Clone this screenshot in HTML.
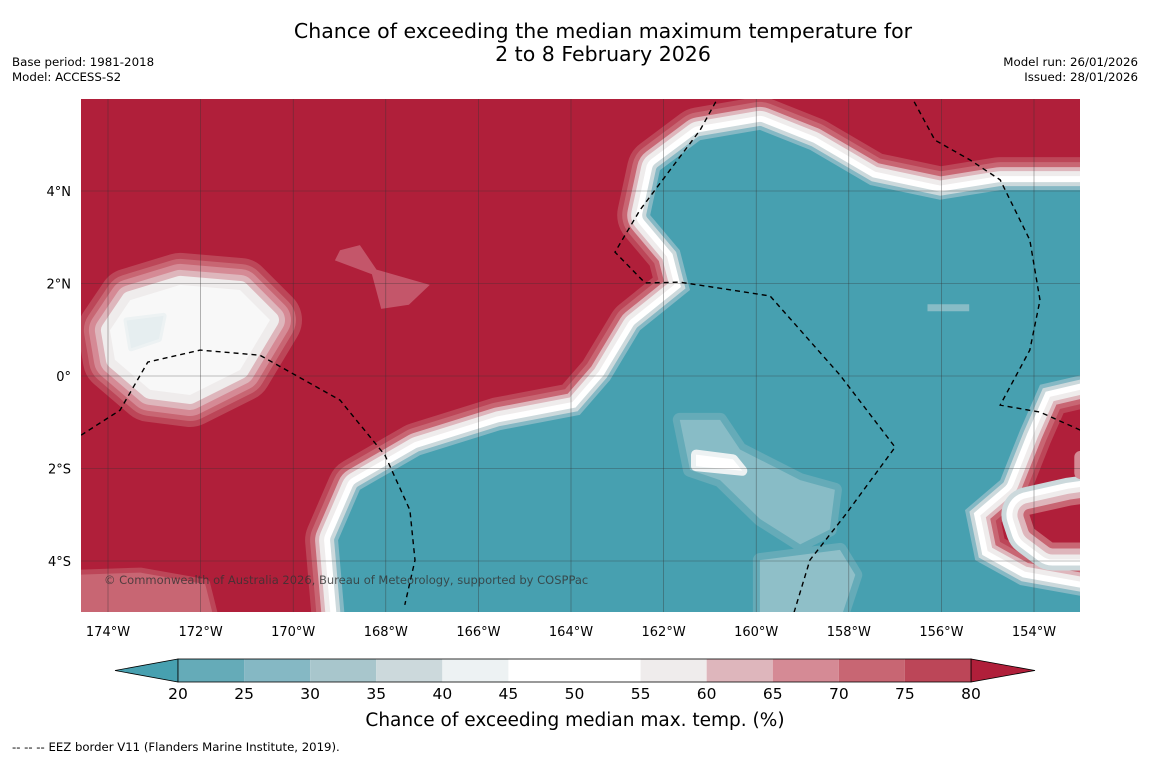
<!DOCTYPE html>
<html><head><meta charset="utf-8"><style>
body{margin:0;background:#fff;width:1150px;height:758px;overflow:hidden;font-family:"DejaVu Sans",sans-serif}
svg text{font-family:"DejaVu Sans",sans-serif}
</style></head><body>
<svg id="chart" width="1150" height="758" viewBox="0 0 1150 758" xmlns="http://www.w3.org/2000/svg">
<defs><clipPath id="mapclip"><rect x="81" y="99" width="999" height="513"/></clipPath></defs>
<text x="603" y="38" font-size="20.5" text-anchor="middle" fill="#000">Chance of exceeding the median maximum temperature for</text>
<text x="603" y="61" font-size="20.5" text-anchor="middle" fill="#000">2 to 8 February 2026</text>
<text x="12" y="66" font-size="11.8">Base period: 1981-2018</text>
<text x="12" y="81" font-size="11.8">Model: ACCESS-S2</text>
<text x="1138" y="66" font-size="11.8" text-anchor="end">Model run: 26/01/2026</text>
<text x="1138" y="81" font-size="11.8" text-anchor="end">Issued: 28/01/2026</text>
<g id="map" clip-path="url(#mapclip)"></g>
<g id="axes"></g>
<g id="cbar"></g>
<text x="575" y="726" font-size="18.5" text-anchor="middle">Chance of exceeding median max. temp. (%)</text>
<text x="12" y="751" font-size="11.7">--  --  -- EEZ border V11 (Flanders Marine Institute, 2019).</text>
</svg>
<script>
const lonTicks=[-174,-172,-170,-168,-166,-164,-162,-160,-158,-156,-154];
const latTicks=[4,2,0,-2,-4];
const cbarLevels=[20,25,30,35,40,45,50,55,60,65,70,75,80];
const cbarColors=["#65abb8","#85b8c4","#a8c6cc","#ccd9dc","#edf2f3","#ffffff","#ffffff","#efecec","#deb6bc","#d58a95","#c86673","#bc4658"];
const belowColor="#47a0b0", aboveColor="#b01f3a";
const tealRegion=[[-168.88,-5.3],[-169.03,-3.55],[-168.56,-2.46],[-167.26,-1.71],[-165.53,-1.17],[-163.81,-0.84],[-163.16,-0.09],[-162.51,0.99],[-161.43,1.86],[-161.65,2.72],[-162.29,3.48],[-162.08,4.45],[-161.21,5.10],[-159.92,5.32],[-158.84,4.89],[-157.54,4.13],[-156.03,3.81],[-154.73,4.02],[-152.5,4.02],[-152.5,0.13],[-153.87,-0.19],[-154.30,-1.17],[-154.73,-2.25],[-155.49,-2.90],[-155.27,-3.98],[-154.30,-4.52],[-152.5,-4.84],[-152.5,-5.3]];
const westBlob=[[-173.96,0.99],[-173.52,1.64],[-172.44,1.97],[-171.15,1.86],[-170.50,1.21],[-171.15,0.13],[-172.23,-0.41],[-173.09,-0.30],[-173.85,0.35]];
const westBlobCore=[[-173.6,1.2],[-172.8,1.3],[-172.9,0.8],[-173.5,0.6]];
const eastRedBlob=[[-154.1,-3.0],[-153.2,-2.8],[-152.5,-2.7],[-152.5,-3.6],[-153.6,-3.6],[-154.0,-3.3]];
const eastRedBlob2=[[-153.0,-1.75],[-152.5,-1.65],[-152.5,-2.2],[-153.0,-2.1]];
const pinkPatch=[[-168.99,2.72],[-168.56,2.83],[-168.2,2.3],[-167.05,1.97],[-167.5,1.54],[-168.1,1.45],[-168.3,2.2],[-169.1,2.5]];
const swPatch=[[-174.8,-4.3],[-173.3,-4.25],[-171.9,-4.5],[-171.7,-5.3],[-174.8,-5.3]];
const lightA=[[-161.65,-0.95],[-160.78,-0.95],[-160.35,-1.59],[-159.05,-2.25],[-158.30,-2.46],[-158.41,-3.32],[-159.05,-3.64],[-159.92,-3.09],[-160.78,-2.25],[-161.43,-2.03]];
const lightACore=[[-161.3,-1.7],[-160.5,-1.8],[-160.3,-2.05],[-161.3,-1.95]];
const lightB=[[-159.92,-3.98],[-158.19,-3.76],[-157.86,-4.30],[-158.19,-5.3],[-159.92,-5.3]];
const lightC=[[-156.3,1.55],[-155.4,1.55],[-155.4,1.4],[-156.3,1.4]];
const eez1=[[-156.68,6.1],[-156.14,5.10],[-155.38,4.67],[-154.73,4.24],[-154.09,2.94],[-153.87,1.64],[-154.09,0.56],[-154.73,-0.63],[-153.87,-0.78],[-153.0,-1.17]];
const eez2=[[-160.78,6.1],[-161.21,5.32],[-162.51,3.59],[-163.05,2.68],[-162.40,2.01],[-161.65,2.03],[-159.70,1.73],[-158.19,0.02],[-157.0,-1.54],[-158.08,-3.01],[-158.84,-3.98],[-159.21,-5.2]];
const eez3=[[-174.58,-1.28],[-173.74,-0.74],[-173.14,0.30],[-172.01,0.56],[-170.72,0.45],[-168.99,-0.52],[-168.02,-1.71],[-167.48,-2.90],[-167.37,-3.98],[-167.59,-4.95]];

const NS="http://www.w3.org/2000/svg";
const X=lon=>108+(lon+174)*46.3;
const Y=lat=>376-lat*46.25;
function mk(tag,attrs,parent){const e=document.createElementNS(NS,tag);for(const k in attrs)e.setAttribute(k,attrs[k]);parent.appendChild(e);return e;}
const pts=a=>a.map(p=>X(p[0]).toFixed(1)+","+Y(p[1]).toFixed(1)).join(" ");
const map=document.getElementById("map");
let r=mk("rect",{x:81,y:99,width:999,height:513,fill:aboveColor},map);


function layered(arr,strokes,fill,name){
  strokes.forEach(s=>{const p=mk("polygon",{points:pts(arr),fill:s[0],stroke:s[0],"stroke-width":s[1],"stroke-linejoin":"round"},map);
  
  });
  const p=mk("polygon",{points:pts(arr),fill:fill,stroke:"none"},map);
  
  
}
layered(pinkPatch,[],"#c4566a","pink-patch");
layered(swPatch,[["#bc4658",10]],"#c86673","southwest-patch");
layered(westBlob,[["#bc4658",64],["#c86673",52],["#d58a95",42],["#deb6bc",30],["#efecec",18]],"#f8f8f8","west-warm-blob");
layered(westBlobCore,[["#edf2f3",6]],"#e6eef0","west-blob-core");
layered(tealRegion,[["#bc4658",66],["#c86673",56],["#deb6bc",46],["#efecec",38],["#ffffff",28],["#ccd9dc",16],["#85b8c4",8]],belowColor,"cool-region");
layered(lightA,[["#65abb8",14]],"#88bcc6","cool-light-patch-a");
layered(lightACore,[["#edf2f3",10]],"#ffffff","cool-light-core");
layered(lightB,[["#65abb8",14]],"#8fbfc8","cool-light-patch-b");
layered(lightC,[],"#88bcc6","cool-light-patch-c");
layered(eastRedBlob,[["#ccd9dc",56],["#ffffff",46],["#efecec",34],["#deb6bc",24],["#c86673",12]],aboveColor,"east-warm-blob");
layered(eastRedBlob2,[["#d58a95",12]],aboveColor,"east-warm-blob-2");
lonTicks.forEach(l=>{const g=mk("line",{x1:X(l),x2:X(l),y1:99,y2:612,stroke:"#333","stroke-width":0.6,"stroke-opacity":0.6},map);

});
latTicks.forEach(l=>{const g=mk("line",{x1:81,x2:1080,y1:Y(l),y2:Y(l),stroke:"#333","stroke-width":0.6,"stroke-opacity":0.6},map);

});
[eez1,eez2,eez3].forEach(a=>{const l=mk("polyline",{points:pts(a),fill:"none",stroke:"#000","stroke-width":1.4,"stroke-dasharray":"5,4"},map);

});
let c=mk("text",{x:104,y:584,"font-size":11.5,fill:"#333","fill-opacity":0.8},map);c.textContent="© Commonwealth of Australia 2026, Bureau of Meteorology, supported by COSPPac";


const axes=document.getElementById("axes");
lonTicks.forEach(l=>{const t=mk("text",{x:X(l),y:636,"font-size":13,"text-anchor":"middle"},axes);t.textContent=Math.abs(l)+"°W";

});
latTicks.forEach(l=>{const t=mk("text",{x:71,y:Y(l)+5,"font-size":13,"text-anchor":"end"},axes);t.textContent=l===0?"0°":Math.abs(l)+"°"+(l>0?"N":"S");

});
const cb=document.getElementById("cbar");
const cx0=178,cx1=971,cy=659,ch=23;
const CX=v=>cx0+(v-cbarLevels[0])/(cbarLevels[cbarLevels.length-1]-cbarLevels[0])*(cx1-cx0);
let tl=mk("polygon",{points:`115,${cy+ch/2} ${cx0},${cy} ${cx0},${cy+ch}`,fill:belowColor,stroke:"#000","stroke-width":0.8},cb);


let tr=mk("polygon",{points:`1035,${cy+ch/2} ${cx1},${cy} ${cx1},${cy+ch}`,fill:aboveColor,stroke:"#000","stroke-width":0.8},cb);


cbarColors.forEach((col,i)=>{const b=mk("rect",{x:CX(cbarLevels[i]),y:cy,width:CX(cbarLevels[i+1])-CX(cbarLevels[i]),height:ch,fill:col},cb);

});
let fr=mk("rect",{x:cx0,y:cy,width:cx1-cx0,height:ch,fill:"none",stroke:"#000","stroke-width":0.8},cb);


cbarLevels.forEach(v=>{const t=mk("text",{x:CX(v),y:699,"font-size":15.5,"text-anchor":"middle"},cb);t.textContent=v;

});
</script>
</body></html>
